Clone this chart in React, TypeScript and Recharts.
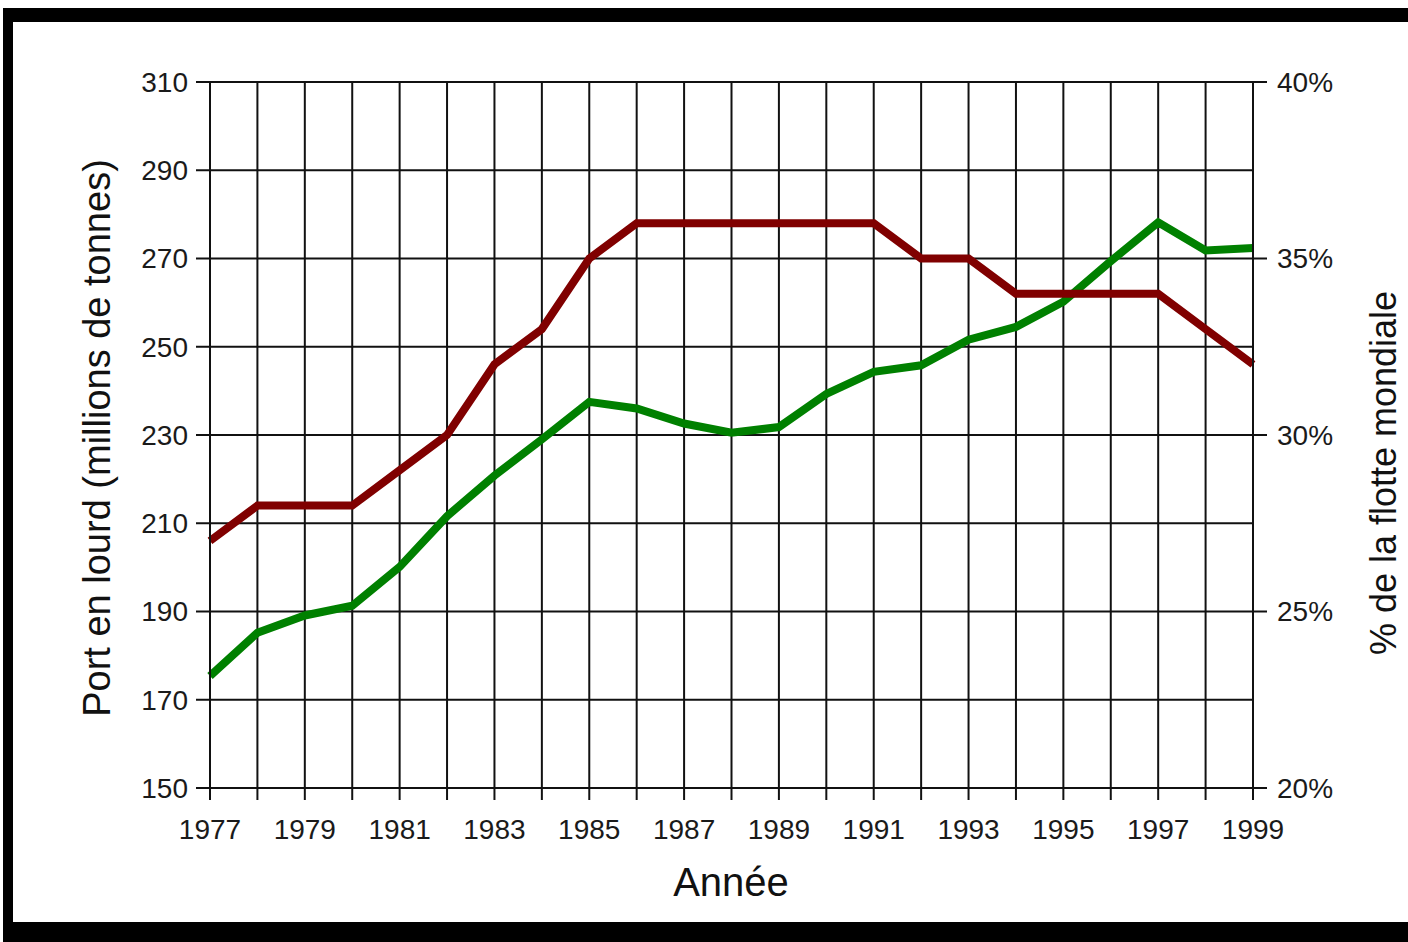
import { LineChart, Line, XAxis, YAxis, CartesianGrid } from "recharts";

const YEARS = [1977, 1978, 1979, 1980, 1981, 1982, 1983, 1984, 1985, 1986, 1987, 1988, 1989, 1990, 1991, 1992, 1993, 1994, 1995, 1996, 1997, 1998, 1999];
// port en lourd, millions de tonnes (axe gauche)
const TONNAGE = [175.4, 185.2, 189.1, 191.3, 200.1, 211.6, 220.8, 229, 237.5, 236, 232.6, 230.5, 231.8, 239.3, 244.3, 245.8, 251.6, 254.5, 260.2, 269.4, 278.2, 271.8, 272.4];
// part de la flotte mondiale, % (axe droit)
const SHARE = [27, 28, 28, 28, 29, 30, 32, 33, 35, 36, 36, 36, 36, 36, 36, 35, 35, 34, 34, 34, 34, 33, 32];

const LEFT_TICKS = [150, 170, 190, 210, 230, 250, 270, 290, 310];
const RIGHT_TICKS = [20, 25, 30, 35, 40];

const data = YEARS.map((year, i) => ({ year, tonnage: TONNAGE[i], share: SHARE[i] }));

const FONT = '"Liberation Sans", Arial, sans-serif';
const tickStyle = { fill: "#1a1a1a", fontSize: 28, fontFamily: FONT };
const ink = { stroke: "#111", strokeWidth: 2 };

export default function App() {
  return (
    <div style={{ position: "absolute", left: 0, top: 0, width: 1408, height: 942, background: "#fff", overflow: "hidden" }}>
      {/* cadre noir */}
      <div style={{ position: "absolute", left: 3, top: 8, width: 1405, height: 14, background: "#000" }} />
      <div style={{ position: "absolute", left: 3, top: 8, width: 10, height: 934, background: "#000" }} />
      <div style={{ position: "absolute", left: 3, top: 922, width: 1405, height: 20, background: "#000" }} />

      <div style={{ position: "absolute", left: 0, top: 0 }}>
        <LineChart width={1408} height={942} data={data} margin={{ top: 82, right: 55, bottom: 94, left: 110 }}>
          <CartesianGrid yAxisId="left" stroke="#111" strokeWidth={2} />
          <XAxis
            dataKey="year"
            type="number"
            domain={[1977, 1999]}
            ticks={YEARS}
            interval={0}
            height={60}
            tickSize={12}
            tickMargin={19}
            tickFormatter={(v: number) => (v % 2 === 1 ? String(v) : "")}
            tick={tickStyle}
            axisLine={ink}
            tickLine={ink}
          />
          <YAxis
            yAxisId="left"
            domain={[150, 310]}
            ticks={LEFT_TICKS}
            interval={0}
            width={100}
            tickSize={14}
            tickMargin={8}
            tick={tickStyle}
            axisLine={ink}
            tickLine={ink}
          />
          <YAxis
            yAxisId="right"
            orientation="right"
            domain={[20, 40]}
            ticks={RIGHT_TICKS}
            interval={0}
            width={100}
            tickSize={14}
            tickMargin={10}
            tickFormatter={(v: number) => `${v}%`}
            tick={tickStyle}
            axisLine={ink}
            tickLine={ink}
          />
          <Line yAxisId="left" type="linear" dataKey="tonnage" stroke="#008000" strokeWidth={8} dot={false} isAnimationActive={false} />
          <Line yAxisId="right" type="linear" dataKey="share" stroke="#800000" strokeWidth={8} dot={false} isAnimationActive={false} />
        </LineChart>
      </div>

      {/* titres d'axes */}
      <div style={{ position: "absolute", left: 97 - 350, top: 438 - 20, width: 700, height: 40, lineHeight: "40px", textAlign: "center", transform: "rotate(-90deg)", fontFamily: FONT, fontSize: 38, color: "#111", whiteSpace: "nowrap" }}>
        Port en lourd (millions de tonnes)
      </div>
      <div style={{ position: "absolute", left: 1384 - 300, top: 473 - 20, width: 600, height: 40, lineHeight: "40px", textAlign: "center", transform: "rotate(-90deg)", fontFamily: FONT, fontSize: 36, color: "#111", whiteSpace: "nowrap" }}>
        % de la flotte mondiale
      </div>
      <div style={{ position: "absolute", left: 731 - 200, top: 860, width: 400, height: 44, lineHeight: "44px", textAlign: "center", fontFamily: FONT, fontSize: 40, color: "#111" }}>
        Année
      </div>
    </div>
  );
}
